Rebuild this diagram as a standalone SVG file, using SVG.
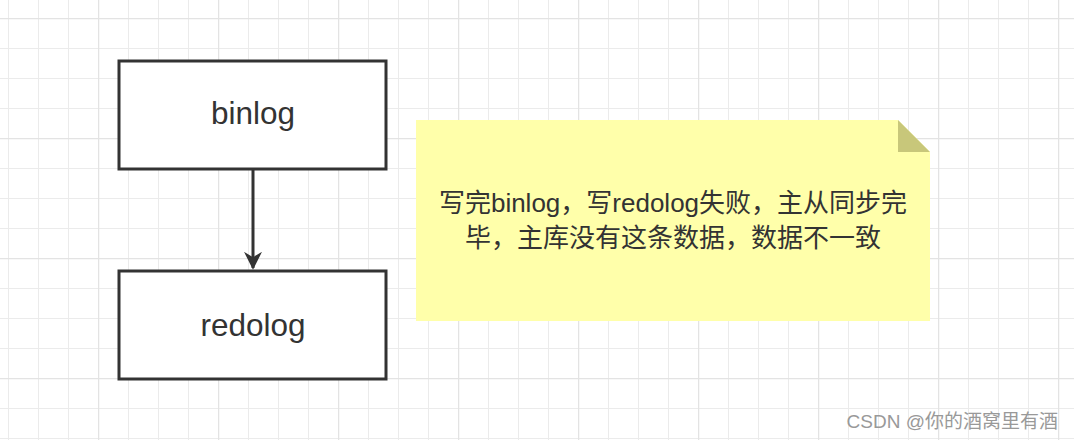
<svg xmlns="http://www.w3.org/2000/svg" width="1074" height="440" viewBox="0 0 1074 440">
<defs>
<pattern id="minor" x="8" y="18" width="30" height="30" patternUnits="userSpaceOnUse"><path d="M0 0H30M0 0V30" fill="none" stroke="#ebebeb" stroke-width="2"/></pattern>
<pattern id="major" x="98" y="18" width="120" height="120" patternUnits="userSpaceOnUse"><path d="M0 0H120M0 0V120" fill="none" stroke="#e3e3e3" stroke-width="2.5"/></pattern>
<marker id="arr" viewBox="0 0 10 10" refX="9" refY="5" markerWidth="6" markerHeight="6" orient="auto" markerUnits="strokeWidth"><path d="M0 0L10 5L0 10L3 5Z" fill="#333"/></marker>
</defs>
<style>
.box{fill:#fff;stroke:#333;stroke-width:3}
.t{font-family:"Liberation Sans","Noto Sans CJK SC",sans-serif;fill:#333;text-anchor:middle}
</style>
<rect width="1074" height="440" fill="#fff"/>
<rect width="1074" height="440" fill="url(#minor)"/>
<rect width="1074" height="440" fill="url(#major)"/>
<g id="connectors"><line x1="253" y1="169" x2="253" y2="268" stroke="#333" stroke-width="3" marker-end="url(#arr)"/></g>
<g id="binlog"><rect class="box" x="119" y="61" width="267" height="108"/><text class="t" x="253" y="124" font-size="31.5">binlog</text></g>
<g id="redolog"><rect class="box" x="119" y="271" width="267" height="108"/><text class="t" x="253" y="336" font-size="31.5">redolog</text></g>
<g id="note">
<path d="M416 120H898L930 152V321H416Z" fill="#ffffaa"/>
<path d="M898 120V152H930Z" fill="#c8c77a"/>
<text class="t" x="673" y="212" font-size="26">写完binlog，写redolog失败，主从同步完</text>
<text class="t" x="673" y="247" font-size="26">毕，主库没有这条数据，数据不一致</text>
</g>
<text x="1058" y="428" font-family="'Liberation Sans','Noto Sans CJK SC',sans-serif" font-size="19" fill="#999" text-anchor="end">CSDN @你的酒窝里有酒</text>
</svg>
